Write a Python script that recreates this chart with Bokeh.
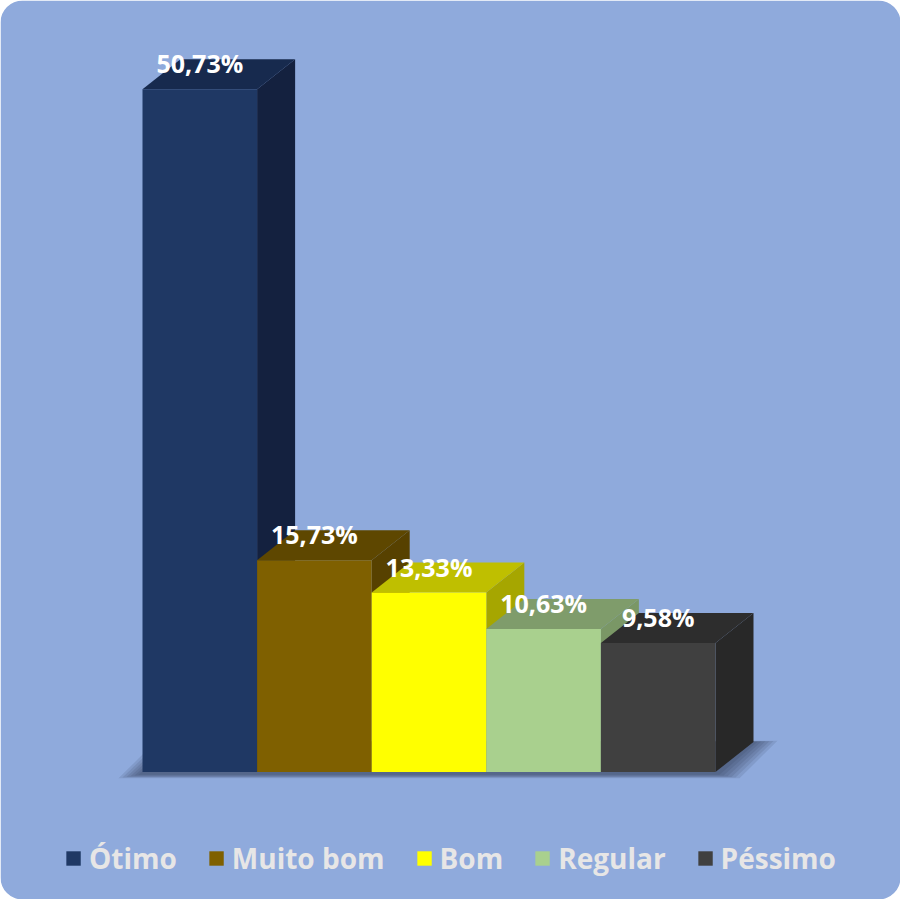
from bokeh.plotting import figure
from bokeh.models import Range1d, BoxAnnotation, ColumnDataSource, Legend, LegendItem
from bokeh.core.properties import value
from bokeh.embed import file_html
from bokeh.resources import INLINE

# ---- data ----
categories = ["Ótimo", "Muito bom", "Bom", "Regular", "Péssimo"]
values = [50.73, 15.73, 13.33, 10.63, 9.58]
labels = ["50,73%", "15,73%", "13,33%", "10,63%", "9,58%"]
front_colors = ["#1F3864", "#7F6000", "#FFFF00", "#A9D08E", "#404040"]
top_colors = ["#172A4E", "#5E4700", "#BFBF00", "#7F9C6B", "#2D2D2D"]
side_colors = ["#14213F", "#574100", "#A6A600", "#7A9766", "#282828"]

# ---- layout constants (reference pixel geometry) ----
W, H = 900, 899
PX_X = 114.6      # px per category unit
PX_Y = 13.46      # px per percent
X0, Y0 = 142, 771.5  # px of origin
DX = 38 / PX_X     # depth offset in x units
DY = 30 / PX_Y     # depth offset in y units

p = figure(width=W, height=H, output_backend="svg", toolbar_location=None,
           x_range=Range1d(-X0 / PX_X, (W - X0) / PX_X),
           y_range=Range1d(-(H - Y0) / PX_Y, Y0 / PX_Y),
           min_border=0, outline_line_color=None)
p.axis.visible = False
p.grid.visible = False
p.border_fill_color = "white"
p.background_fill_color = "white"

bg = BoxAnnotation(fill_color="#8FAADC", fill_alpha=1.0, line_color=None,
                   border_radius=22, level="underlay")
p.add_layout(bg)

# soft floor shadow
n = len(values)
for e in [24, 20, 16, 12, 8, 4]:
    ex = e / PX_X
    ey = (e * 0.18) / PX_Y
    xs = [-ex, n + ex, n + DX + ex, DX - ex]
    ys = [-ey - 0.15, -ey - 0.15, DY + ey * 0.3, DY + ey * 0.3]
    p.patch(xs, ys, fill_color="#28304A", fill_alpha=0.12, line_color=None)

# bars: side, top, front for each, drawn left to right
fronts = []
for i, v in enumerate(values):
    side_x = [i + 1, i + 1 + DX, i + 1 + DX, i + 1]
    side_y = [0, DY, v + DY, v]
    p.patch(side_x, side_y, fill_color=side_colors[i], line_color=None)
    top_x = [i, i + 1, i + 1 + DX, i + DX]
    top_y = [v, v, v + DY, v + DY]
    p.patch(top_x, top_y, fill_color=top_colors[i], line_color=None)
    r = p.quad(left=[i], right=[i + 1], bottom=[0], top=[v],
               fill_color=front_colors[i], line_color=None)
    fronts.append(r)

# labels
lab_src = ColumnDataSource(dict(x=[i + 0.5 for i in range(n)],
                                y=[v + DY - 0.3 for v in values],
                                t=labels))
p.text(x="x", y="y", text="t", source=lab_src, text_align="center",
       text_baseline="middle", text_color="white",
       text_font=value("Open Sans"), text_font_style="bold",
       text_font_size="25px")

# legend
items = [LegendItem(label=c, renderers=[fronts[i]]) for i, c in enumerate(categories)]
legend = Legend(items=items, orientation="horizontal", location="bottom_center",
                glyph_width=18, glyph_height=18, label_standoff=7, spacing=30,
                padding=0, margin=22,
                background_fill_alpha=0, border_line_alpha=0,
                label_text_font="Open Sans", label_text_font_style="bold",
                label_text_font_size="28px", label_text_color="#E7E6E6")
p.add_layout(legend, "center")

open("out.html", "w").write(file_html(p, INLINE))
